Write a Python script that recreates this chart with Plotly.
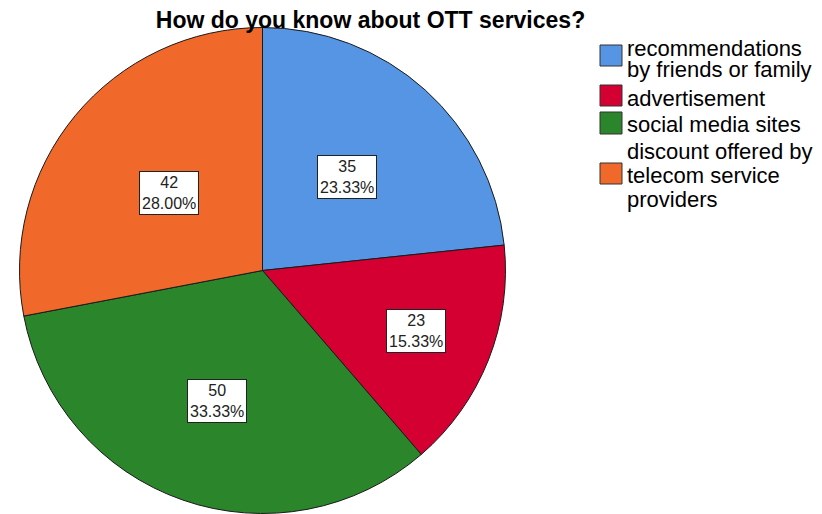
import math
import plotly.graph_objects as go

# Survey responses: how respondents learned about OTT services
categories = [
    "recommendations by friends or family",
    "advertisement",
    "social media sites",
    "discount offered by telecom service providers",
]
counts = [35, 23, 50, 42]
legend_lines = [
    ["recommendations", "by friends or family"],
    ["advertisement"],
    ["social media sites"],
    ["discount offered by", "telecom service", "providers"],
]
colors = ["#5695E3", "#D50032", "#2A852B", "#F0692B"]

W, H = 822, 514
CX, CY, R = 262.5, 270.5, 243          # pie centre / radius in pixels
label_radius = [0.52, 0.68, 0.57, 0.50]  # where each value box sits, as a fraction of R


def px(x):
    return x / W


def py(y):
    return 1 - y / H


fig = go.Figure(
    go.Pie(
        labels=categories,
        values=counts,
        sort=False,
        direction="clockwise",
        rotation=0,
        marker=dict(colors=colors, line=dict(color="#1a1a1a", width=1)),
        textinfo="none",
        hoverinfo="label+value+percent",
        domain=dict(x=[px(CX - R), px(CX + R)], y=[py(CY + R), py(CY - R)]),
        showlegend=False,
    )
)

# value / percentage boxes at the middle angle of each slice
total = sum(counts)
annotations = []
cum = 0
for v, f in zip(counts, label_radius):
    a = 2 * math.pi * (cum + v / 2) / total
    cum += v
    x = CX + R * f * math.sin(a)
    y = CY - R * f * math.cos(a)
    annotations.append(
        dict(
            x=px(x), y=py(y), xref="paper", yref="paper",
            text=f"{v}<br>{100 * v / total:.2f}%",
            showarrow=False, xanchor="center", yanchor="middle",
            font=dict(family="Liberation Sans", size=16, color="#222"),
            bgcolor="white", bordercolor="#222", borderwidth=1, borderpad=2,
        )
    )

# hand-built legend: swatches and wrapped category text
swatch_y = [(45, 66), (85, 106), (112, 134), (163, 184)]
line_baselines = [[56, 77], [106], [132], [159, 183, 207]]
shapes = []
for col, (y0, y1), lines, bases in zip(colors, swatch_y, legend_lines, line_baselines):
    shapes.append(
        dict(type="rect", xref="paper", yref="paper",
             x0=px(600), x1=px(622), y0=py(y1), y1=py(y0),
             fillcolor=col, line=dict(color="#333", width=1))
    )
    for t, b in zip(lines, bases):
        annotations.append(
            dict(x=px(626), y=py(b - 7.5), xref="paper", yref="paper",
                 text=t, showarrow=False, xanchor="left", yanchor="middle",
                 borderpad=0,
                 font=dict(family="Liberation Sans", size=22, color="#000"))
        )

fig.update_layout(
    width=W, height=H,
    margin=dict(l=0, r=0, t=0, b=0),
    paper_bgcolor="white", plot_bgcolor="white",
    title=dict(
        text="<b>How do you know about OTT services?</b>",
        x=px(370.5), xanchor="center", xref="paper",
        y=1 - 19.5 / H, yanchor="middle", yref="container",
        font=dict(family="Liberation Sans", size=23, color="#000"),
    ),
    annotations=annotations,
    shapes=shapes,
    showlegend=False,
)

fig.write_html("out.html")
